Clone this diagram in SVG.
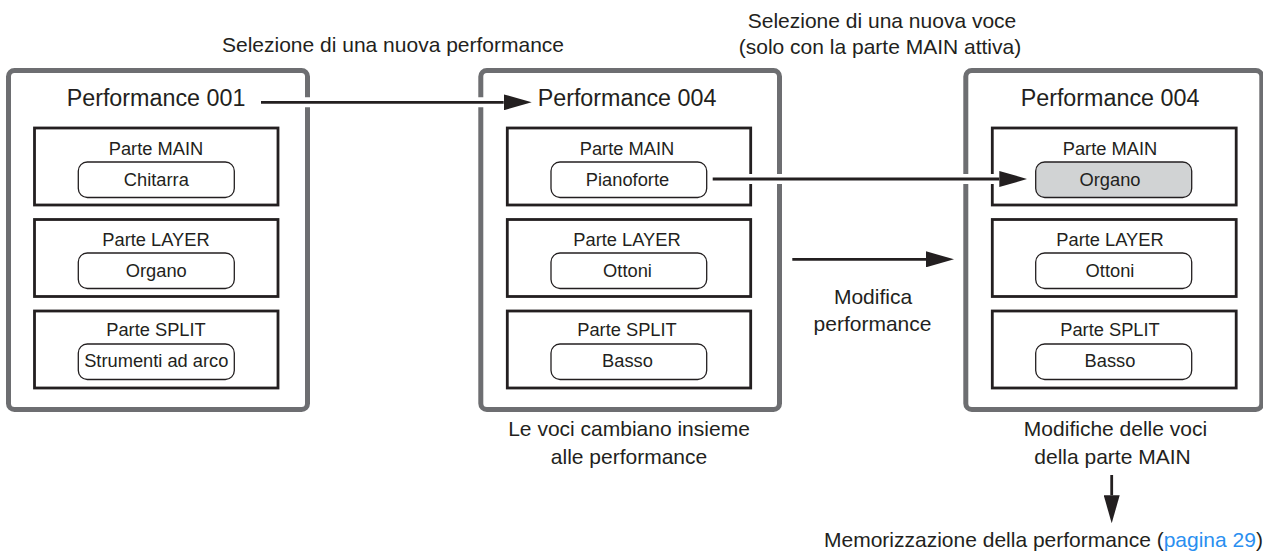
<svg xmlns="http://www.w3.org/2000/svg" width="1263" height="554" viewBox="0 0 1263 554">
  <defs>
    <marker id="head" markerUnits="userSpaceOnUse" markerWidth="28" markerHeight="16" refX="0" refY="8" orient="auto" viewBox="0 0 28 16">
      <path d="M0,0 L28,8 L0,16 z" fill="#231f20"/>
    </marker>
  </defs>
  <style>
    .frame{fill:#fff;stroke:#6d6e71;stroke-width:5}
    .part{fill:none;stroke:#231f20;stroke-width:2.8}
    .voice{fill:#fff;stroke:#231f20;stroke-width:1.3}
    .voice.sel{fill:#d1d3d4}
    text{font-family:"Liberation Sans",Arial,Helvetica,sans-serif;fill:#231f20;text-anchor:middle}
    .title{font-size:23.3px}
    .lbl{font-size:18.3px}
    .note{font-size:21px}
    .link{fill:#2a8ff0}
    .halo{stroke:#fff;stroke-width:10;fill:none}
    .wire{stroke:#231f20;stroke-width:2.8;fill:none}
  </style>

  <!-- captions -->
  <g id="captions">
    <text class="note" x="393" y="52">Selezione di una nuova performance</text>
    <text class="note" x="882" y="28">Selezione di una nuova voce</text>
    <text class="note" x="880" y="54">(solo con la parte MAIN attiva)</text>
    <text class="note" x="629" y="436">Le voci cambiano insieme</text>
    <text class="note" x="629" y="463.5">alle performance</text>
    <text class="note" x="873" y="304">Modifica</text>
    <text class="note" x="872.5" y="330.5">performance</text>
    <text class="note" x="1115.5" y="436">Modifiche delle voci</text>
    <text class="note" x="1112.5" y="463.5">della parte MAIN</text>
    <text class="note" x="824" y="547" style="text-anchor:start">Memorizzazione della performance (<tspan class="link">pagina 29</tspan>)</text>
  </g>

  <!-- Performance 001 -->
  <g id="perf001">
    <rect class="frame" x="8.5" y="70.5" width="299" height="339" rx="6"/>
    <text class="title" x="156" y="106">Performance 001</text>
    <rect class="part" x="34.5" y="128" width="243.5" height="77"/>
    <text class="lbl" x="156" y="155">Parte MAIN</text>
    <rect class="voice" x="78.3" y="162" width="156" height="35.5" rx="9"/>
    <text class="lbl" x="156.3" y="186">Chitarra</text>
    <rect class="part" x="34.5" y="219.5" width="243.5" height="77"/>
    <text class="lbl" x="156" y="245.5">Parte LAYER</text>
    <rect class="voice" x="78.3" y="253" width="156" height="35.5" rx="9"/>
    <text class="lbl" x="156.3" y="276.5">Organo</text>
    <rect class="part" x="34.5" y="311" width="243.5" height="77"/>
    <text class="lbl" x="156" y="336">Parte SPLIT</text>
    <rect class="voice" x="78.3" y="344" width="156" height="35.5" rx="9"/>
    <text class="lbl" x="156.3" y="367">Strumenti ad arco</text>
  </g>

  <!-- Performance 004, voices from the performance -->
  <g id="perf004a">
    <rect class="frame" x="480.8" y="70.5" width="298.7" height="339" rx="6"/>
    <text class="title" x="627" y="106">Performance 004</text>
    <rect class="part" x="507.3" y="128" width="243.4" height="77"/>
    <text class="lbl" x="627" y="155">Parte MAIN</text>
    <rect class="voice" x="551" y="162" width="155.7" height="35.5" rx="9"/>
    <text class="lbl" x="627.5" y="186">Pianoforte</text>
    <rect class="part" x="507.3" y="219.5" width="243.4" height="77"/>
    <text class="lbl" x="627" y="245.5">Parte LAYER</text>
    <rect class="voice" x="551" y="253" width="155.7" height="35.5" rx="9"/>
    <text class="lbl" x="627.5" y="276.5">Ottoni</text>
    <rect class="part" x="507.3" y="311" width="243.4" height="77"/>
    <text class="lbl" x="627" y="336">Parte SPLIT</text>
    <rect class="voice" x="551" y="344" width="155.7" height="35.5" rx="9"/>
    <text class="lbl" x="627.5" y="367">Basso</text>
  </g>

  <!-- Performance 004, edited MAIN voice -->
  <g id="perf004b">
    <rect class="frame" x="965.8" y="70.5" width="296" height="339" rx="6"/>
    <text class="title" x="1110" y="106">Performance 004</text>
    <rect class="part" x="992.3" y="128" width="243.9" height="77"/>
    <text class="lbl" x="1110" y="155">Parte MAIN</text>
    <rect class="voice sel" x="1035.7" y="162" width="156" height="35.5" rx="9"/>
    <text class="lbl" x="1110" y="186">Organo</text>
    <rect class="part" x="992.3" y="219.5" width="243.9" height="77"/>
    <text class="lbl" x="1110" y="245.5">Parte LAYER</text>
    <rect class="voice" x="1035.7" y="253" width="156" height="35.5" rx="9"/>
    <text class="lbl" x="1110" y="276.5">Ottoni</text>
    <rect class="part" x="992.3" y="311" width="243.9" height="77"/>
    <text class="lbl" x="1110" y="336">Parte SPLIT</text>
    <rect class="voice" x="1035.7" y="344" width="156" height="35.5" rx="9"/>
    <text class="lbl" x="1110" y="367">Basso</text>
  </g>

  <!-- connectors -->
  <g id="connectors">
    <path class="halo" d="M257,102.3 H505"/>
    <path class="wire" d="M261,102.3 H503.7" marker-end="url(#head)"/>
    <path class="halo" d="M709,179 H1000"/>
    <path class="wire" d="M712.7,179 H999.3" marker-end="url(#head)"/>
    <path class="wire" d="M792.3,259.3 H926" marker-end="url(#head)"/>
    <path class="wire" d="M1111.7,475 V495.3" marker-end="url(#head)"/>
  </g>
</svg>
